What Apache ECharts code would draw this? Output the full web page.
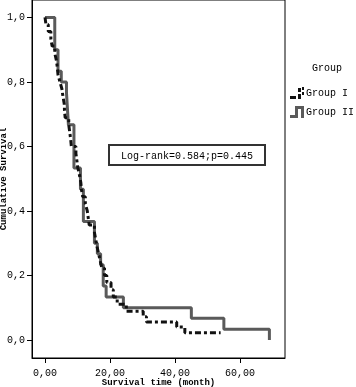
<!DOCTYPE html>
<html>
<head>
<meta charset="utf-8">
<script src="https://cdn.jsdelivr.net/npm/echarts@6/dist/echarts.min.js"></script>
<style>
  html, body { margin: 0; padding: 0; background: #fff; }
  #chart { width: 356px; height: 387px; }
</style>
</head>
<body>
<div id="chart"></div>
<script>
// Kaplan-Meier steps: [time of event, survival after it]
const groupI = [
  [0, 1.0], [0.3, 0.978], [1.0, 0.956], [1.8, 0.933], [2.2, 0.911], [3.0, 0.889],
  [3.5, 0.867], [3.8, 0.844], [4.0, 0.822], [4.6, 0.8], [5.2, 0.778], [5.5, 0.756],
  [5.9, 0.733], [6.0, 0.711], [6.2, 0.689], [7.3, 0.667], [7.6, 0.644], [7.9, 0.622],
  [8.1, 0.6], [9.5, 0.578], [9.8, 0.556], [10.1, 0.533], [10.6, 0.511], [11.0, 0.489],
  [11.2, 0.467], [11.6, 0.444], [12.4, 0.422], [13.0, 0.4], [13.3, 0.378], [13.6, 0.356],
  [15.2, 0.333], [15.6, 0.311], [16.0, 0.289], [16.5, 0.267], [17.0, 0.244], [17.5, 0.222],
  [18.3, 0.2], [19.0, 0.178], [20.3, 0.156], [21.0, 0.133], [22.2, 0.111], [25.0, 0.089],
  [30.2, 0.072], [31.2, 0.056], [40.5, 0.04], [43.0, 0.022], [54.0, 0.022]
];
const groupII = [
  [0, 1.0], [3.0, 0.9], [4.0, 0.833], [5.0, 0.8], [6.6, 0.767], [7.2, 0.667],
  [8.9, 0.533], [10.9, 0.467], [11.8, 0.367], [15.2, 0.3], [16.1, 0.267], [17.1, 0.233],
  [17.9, 0.167], [18.8, 0.133], [24.1, 0.1], [45.0, 0.067], [55.0, 0.033], [69.0, 0]
];
const xTicks = [0, 20, 40, 60];
const yTicks = [0, 0.2, 0.4, 0.6, 0.8, 1.0];
const seriesNames = ["Group I", "Group II"];
const testLabel = "Log-rank=0.584;p=0.445";

const mono = "'Liberation Mono', 'DejaVu Sans Mono', monospace";
const chart = echarts.init(document.getElementById("chart"));

chart.setOption({
  animation: false,
  title: {
    text: "Group",
    left: 307,
    top: 58,
    textStyle: { fontFamily: mono, fontSize: 10, fontWeight: "normal", color: "#000" }
  },
  legend: {
    orient: "vertical",
    left: 285,
    top: 82,
    itemWidth: 16,
    itemHeight: 12,
    itemGap: 7,
    textStyle: { fontFamily: mono, fontSize: 10, color: "#000", padding: [6, 0, 0, -4] },
    itemStyle: { borderWidth: 0 },
    data: [
      { name: seriesNames[0], icon: "path://M0,9h6v3h-6z M8,1h3v4h-3z M8,7h3v5h-3z M12,0h2v3h-2z M12,5h2v3h-2z" },
      { name: seriesNames[1], icon: "path://M0,9L5,9L5,0L14,0L14,12L11,12L11,3L8,3L8,12L0,12Z" }
    ]
  },
  grid: {
    left: 32,
    right: 71,
    top: 0,
    bottom: 29,
    outerBoundsMode: "none",
    show: true,
    borderColor: "#000",
    borderWidth: 1,
    backgroundColor: "#fff"
  },
  xAxis: {
    type: "value",
    min: -4,
    max: 73.8,
    name: "Survival time (month)",
    nameLocation: "middle",
    nameGap: 20,
    nameMoveOverlap: false,
    nameTextStyle: { fontFamily: mono, fontSize: 9, fontWeight: "bold", color: "#000" },
    axisLine: { show: true, onZero: false, lineStyle: { color: "#000", width: 1 } },
    axisTick: { show: true, length: 5, customValues: xTicks, lineStyle: { color: "#000" } },
    axisLabel: {
      customValues: xTicks,
      margin: 10,
      fontFamily: mono,
      fontSize: 10,
      color: "#000",
      formatter: (v) => v.toFixed(2).replace(".", ",")
    },
    splitLine: { show: false }
  },
  yAxis: {
    type: "value",
    min: -0.056,
    max: 1.054,
    name: "Cumulative Survival",
    nameLocation: "middle",
    nameGap: 24,
    nameMoveOverlap: false,
    nameTextStyle: { fontFamily: mono, fontSize: 9, fontWeight: "bold", color: "#000" },
    axisLine: { show: true, onZero: false, lineStyle: { color: "#000", width: 1 } },
    axisTick: { show: true, length: 5, customValues: yTicks, lineStyle: { color: "#000" } },
    axisLabel: {
      customValues: yTicks,
      margin: 7,
      fontFamily: mono,
      fontSize: 10,
      color: "#000",
      formatter: (v) => v.toFixed(1).replace(".", ",")
    },
    splitLine: { show: false }
  },
  series: [
    {
      name: seriesNames[1],
      type: "line",
      step: "end",
      data: groupII,
      showSymbol: false,
      itemStyle: { color: "#5a5a5a" },
      lineStyle: { color: "#5a5a5a", width: 3 },
      z: 2
    },
    {
      name: seriesNames[0],
      type: "line",
      step: "end",
      data: groupI,
      showSymbol: false,
      itemStyle: { color: "#111" },
      lineStyle: { color: "#111", width: 3, type: [6, 3, 3, 3] },
      z: 3
    }
  ],
  graphic: [
    {
      type: "group",
      left: 108,
      top: 144,
      z: 10,
      children: [
        {
          type: "rect",
          shape: { x: 0, y: 0, width: 156, height: 20 },
          style: { fill: "#fff", stroke: "#333", lineWidth: 2 }
        },
        {
          type: "text",
          x: 78,
          y: 11,
          style: {
            text: testLabel,
            font: "10px " + mono,
            fill: "#000",
            align: "center",
            verticalAlign: "middle"
          }
        }
      ]
    }
  ]
});
</script>
</body>
</html>
